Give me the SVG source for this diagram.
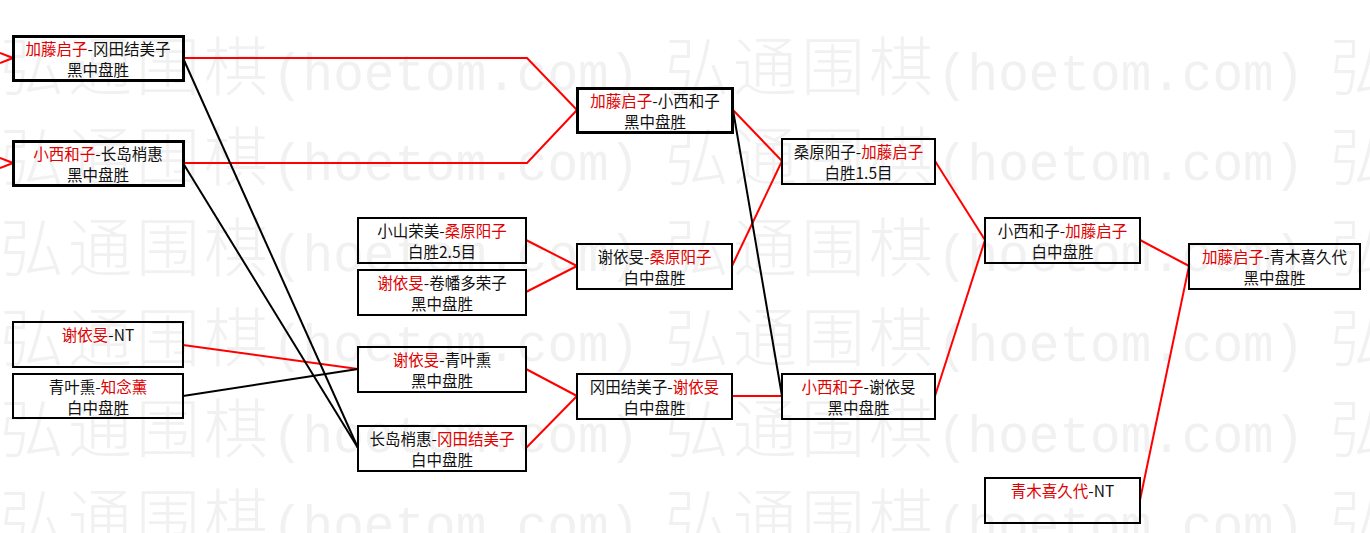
<svg xmlns="http://www.w3.org/2000/svg" width="1370" height="533" viewBox="0 0 1370 533">
<style>
.wm{font-family:"Noto Sans CJK SC",sans-serif;font-size:64px;font-weight:300;fill:#f1f1f1}
.wa{font-family:"Liberation Mono",monospace;font-size:51px;font-weight:400}
.box{fill:none;stroke:#000;stroke-width:2}
.thick{stroke-width:3}
.t{font-family:"Noto Sans CJK SC",sans-serif;font-size:15.5px;fill:#111;text-anchor:middle}
.r{fill:#e00000}
.lr{stroke:#f00;stroke-width:2;fill:none}
.lb{stroke:#000;stroke-width:2;fill:none}
</style>
<defs>
<text id="wm" class="wm" x="0" y="0">弘<tspan dx="4">通</tspan><tspan dx="4">围</tspan><tspan dx="4">棋</tspan><tspan class="wa" dx="4">(hoetom.com)</tspan></text>
</defs>
<rect width="1370" height="533" fill="#fff"/>
<g id="watermark">
<use href="#wm" x="0" y="90"/><use href="#wm" x="665" y="90"/><use href="#wm" x="1330" y="90"/>
<use href="#wm" x="0" y="180"/><use href="#wm" x="665" y="180"/><use href="#wm" x="1330" y="180"/>
<use href="#wm" x="0" y="271"/><use href="#wm" x="665" y="271"/><use href="#wm" x="1330" y="271"/>
<use href="#wm" x="0" y="361"/><use href="#wm" x="665" y="361"/><use href="#wm" x="1330" y="361"/>
<use href="#wm" x="0" y="452"/><use href="#wm" x="665" y="452"/><use href="#wm" x="1330" y="452"/>
<use href="#wm" x="0" y="542"/><use href="#wm" x="665" y="542"/><use href="#wm" x="1330" y="542"/>
</g>
<g id="connectors">
<path class="lr" d="M0 53 L13 58 M0 63 L13 58"/>
<path class="lr" d="M0 158 L13 163 M0 168 L13 163"/>
<path class="lr" d="M183 58 H527 L577 110"/>
<path class="lr" d="M183 163 H527 L577 110"/>
<path class="lr" d="M526 240 L577 266"/>
<path class="lr" d="M526 292 L577 266"/>
<path class="lr" d="M183 345 L358 369"/>
<path class="lr" d="M526 369 L577 396"/>
<path class="lr" d="M526 448 L577 396"/>
<path class="lr" d="M733 110 L782 161"/>
<path class="lr" d="M732 266 L782 161"/>
<path class="lr" d="M732 396 H782"/>
<path class="lr" d="M935 161 L985 240"/>
<path class="lr" d="M935 396 L985 240"/>
<path class="lr" d="M1140 240 L1189 266"/>
<path class="lr" d="M1140 500 L1189 266"/>
<path class="lb" d="M183 58 L358 448"/>
<path class="lb" d="M183 163 L358 448"/>
<path class="lb" d="M183 396 L358 369"/>
<path class="lb" d="M733 110 L782 396"/>
</g>
<g id="n1"><rect class="box thick" x="13.5" y="36.5" width="170" height="44"/><text class="t" x="98" y="55"><tspan class="r">加藤启子</tspan>-冈田结美子</text><text class="t" x="98" y="76">黑中盘胜</text></g>
<g id="n2"><rect class="box thick" x="13.5" y="141.5" width="170" height="44"/><text class="t" x="98" y="160"><tspan class="r">小西和子</tspan>-长岛梢惠</text><text class="t" x="98" y="181">黑中盘胜</text></g>
<g id="n3"><rect class="box" x="13" y="322" width="170" height="45"/><text class="t" x="98" y="341"><tspan class="r">谢依旻</tspan>-NT</text></g>
<g id="n4"><rect class="box" x="13" y="374" width="170" height="44"/><text class="t" x="98" y="393">青叶熏-<tspan class="r">知念薰</tspan></text><text class="t" x="98" y="414">白中盘胜</text></g>
<g id="n5"><rect class="box" x="358" y="218" width="168" height="45"/><text class="t" x="442" y="237">小山荣美-<tspan class="r">桑原阳子</tspan></text><text class="t" x="442" y="258">白胜2.5目</text></g>
<g id="n6"><rect class="box" x="358" y="270" width="168" height="45"/><text class="t" x="442" y="289"><tspan class="r">谢依旻</tspan>-卷幡多荣子</text><text class="t" x="442" y="310">黑中盘胜</text></g>
<g id="n7"><rect class="box" x="358" y="347" width="168" height="45"/><text class="t" x="442" y="366"><tspan class="r">谢依旻</tspan>-青叶熏</text><text class="t" x="442" y="387">黑中盘胜</text></g>
<g id="n8"><rect class="box" x="358" y="426" width="168" height="45"/><text class="t" x="442" y="445">长岛梢惠-<tspan class="r">冈田结美子</tspan></text><text class="t" x="442" y="466">白中盘胜</text></g>
<g id="n9"><rect class="box thick" x="577.5" y="88.5" width="155" height="44"/><text class="t" x="655" y="107"><tspan class="r">加藤启子</tspan>-小西和子</text><text class="t" x="655" y="128">黑中盘胜</text></g>
<g id="n10"><rect class="box" x="577" y="244" width="155" height="45"/><text class="t" x="654.5" y="263">谢依旻-<tspan class="r">桑原阳子</tspan></text><text class="t" x="654.5" y="284">白中盘胜</text></g>
<g id="n11"><rect class="box" x="577" y="374" width="155" height="45"/><text class="t" x="654.5" y="393">冈田结美子-<tspan class="r">谢依旻</tspan></text><text class="t" x="654.5" y="414">白中盘胜</text></g>
<g id="n12"><rect class="box" x="782" y="139" width="153" height="45"/><text class="t" x="858.5" y="158">桑原阳子-<tspan class="r">加藤启子</tspan></text><text class="t" x="858.5" y="179">白胜1.5目</text></g>
<g id="n13"><rect class="box" x="782" y="374" width="153" height="45"/><text class="t" x="858.5" y="393"><tspan class="r">小西和子</tspan>-谢依旻</text><text class="t" x="858.5" y="414">黑中盘胜</text></g>
<g id="n14"><rect class="box" x="985" y="218" width="155" height="45"/><text class="t" x="1062.5" y="237">小西和子-<tspan class="r">加藤启子</tspan></text><text class="t" x="1062.5" y="258">白中盘胜</text></g>
<g id="n15"><rect class="box" x="1189" y="244" width="171" height="45"/><text class="t" x="1274.5" y="263"><tspan class="r">加藤启子</tspan>-青木喜久代</text><text class="t" x="1274.5" y="284">黑中盘胜</text></g>
<g id="n16"><rect class="box" x="985" y="478" width="155" height="45"/><text class="t" x="1062.5" y="497"><tspan class="r">青木喜久代</tspan>-NT</text></g>
</svg>
